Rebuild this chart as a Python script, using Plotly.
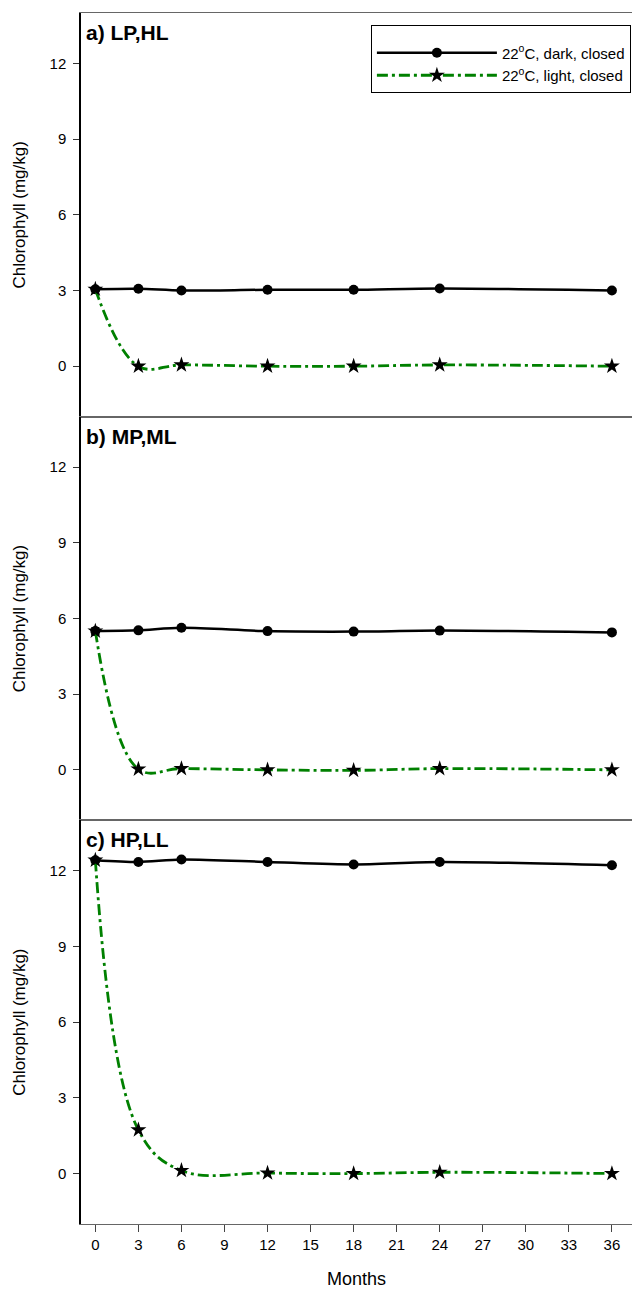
import plotly.graph_objects as go
from plotly.subplots import make_subplots

months = [0, 3, 6, 12, 18, 24, 36]

dark_a = [3.05, 3.07, 3.00, 3.03, 3.03, 3.08, 3.00]
light_a = [3.05, 0.00, 0.05, 0.00, 0.00, 0.05, 0.00]
dark_b = [5.50, 5.53, 5.63, 5.50, 5.48, 5.52, 5.45]
light_b = [5.50, 0.03, 0.05, 0.00, -0.02, 0.05, 0.00]
dark_c = [12.42, 12.35, 12.45, 12.35, 12.25, 12.35, 12.22]
light_c = [12.42, 1.73, 0.12, 0.02, 0.00, 0.05, 0.00]
err_dark_a = [0.08, 0, 0, 0, 0, 0, 0]
err_dark_b = [0.14, 0, 0, 0, 0, 0, 0]
err_dark_c = [0.08, 0, 0, 0, 0, 0, 0]

panel_labels = ["a) LP,HL", "b) MP,ML", "c) HP,LL"]
series_names = ["22<sup>o</sup>C, dark, closed", "22<sup>o</sup>C, light, closed"]
y_ticks = [0, 3, 6, 9, 12]
x_ticks = list(range(0, 37, 3))

FONT = "Arial, Liberation Sans, sans-serif"

fig = make_subplots(rows=3, cols=1, shared_xaxes=True, vertical_spacing=0)

panels = [(dark_a, light_a, err_dark_a), (dark_b, light_b, err_dark_b), (dark_c, light_c, err_dark_c)]
for i, (d, l, e) in enumerate(panels):
    row = i + 1
    fig.add_trace(go.Scatter(
        x=months, y=d, mode="lines+markers", name=series_names[0],
        legendgroup="dark", showlegend=(i == 0),
        line=dict(color="black", width=2.5, shape="spline", smoothing=0.8),
        marker=dict(symbol="circle", size=10, color="black"),
        error_y=dict(type="data", array=e, visible=True, color="black", thickness=1.2, width=4),
    ), row=row, col=1)
    fig.add_trace(go.Scatter(
        x=months, y=l, mode="lines+markers", name=series_names[1],
        legendgroup="light", showlegend=(i == 0),
        line=dict(color="#008000", width=2.8, shape="spline", smoothing=1.1, dash="11px,4px,3px,4px"),
        marker=dict(symbol="star", size=12, color="black", line=dict(width=0)),
    ), row=row, col=1)

for i in range(3):
    row = i + 1
    fig.update_yaxes(
        range=[-2, 14], tickvals=y_ticks, ticks="outside", ticklen=6, tickwidth=1.2,
        tickcolor="#333", showline=True, linecolor="black", linewidth=1.5,
        showgrid=False, zeroline=False, ticklabelstandoff=4,
        tickfont=dict(family=FONT, size=15, color="black"),
        title=dict(text="Chlorophyll (mg/kg)", font=dict(family=FONT, size=17, color="black"), standoff=20),
        row=row, col=1)
    fig.update_xaxes(
        range=[-1, 37.4], showline=True, mirror=True, linecolor="#666", linewidth=1,
        showgrid=False, zeroline=False, row=row, col=1)
    fig.add_annotation(
        text="<b>" + panel_labels[i] + "</b>", xref=f"x{'' if row == 1 else row} domain",
        yref=f"y{'' if row == 1 else row} domain", x=0.006, y=0.985, xanchor="left", yanchor="top",
        showarrow=False, font=dict(family=FONT, size=21, color="black"))

fig.update_xaxes(showticklabels=False, ticks="", row=1, col=1)
fig.update_xaxes(showticklabels=False, ticks="", row=2, col=1)
fig.update_xaxes(
    tickvals=x_ticks, ticks="outside", ticklen=7, tickwidth=1.2, tickcolor="#444",
    showticklabels=True, tickfont=dict(family=FONT, size=15, color="black"),
    title=dict(text="Months", font=dict(family=FONT, size=18, color="black"), standoff=20),
    row=3, col=1)

fig.update_layout(
    width=632, height=1290,
    margin=dict(l=81, r=0, t=13, b=66),
    paper_bgcolor="white", plot_bgcolor="white",
    font=dict(family=FONT, color="black"),
    legend=dict(
        x=0.998, y=0.99, xanchor="right", yanchor="top",
        bordercolor="black", borderwidth=1, bgcolor="white",
        font=dict(family=FONT, size=15, color="black"),
        title=dict(text=" ", font=dict(size=8)),
        tracegroupgap=0, itemwidth=120,
    ),
    showlegend=True,
)

fig.write_html(
    "out.html",
    config={"displayModeBar": False},
    post_script="document.body.style.margin='0';document.body.style.overflow='hidden';",
)
